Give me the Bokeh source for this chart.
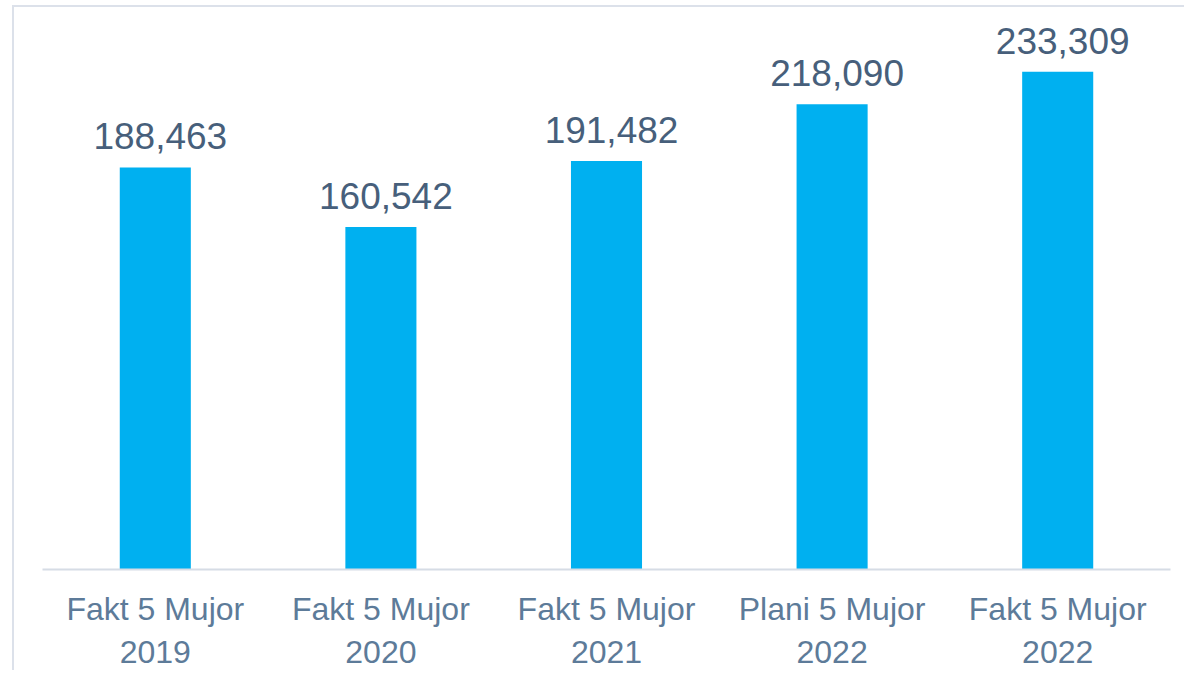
from bokeh.plotting import figure
from bokeh.models import ColumnDataSource, LabelSet, FactorRange, Range1d
from bokeh.core.properties import value
from bokeh.embed import file_html
from bokeh.resources import INLINE

categories = ["Fakt 5 Mujor\n2019", "Fakt 5 Mujor\n2020", "Fakt 5 Mujor\n2021",
              "Plani 5 Mujor\n2022", "Fakt 5 Mujor\n2022"]
values = [188463, 160542, 191482, 218090, 233309]
value_labels = [f"{v:,}" for v in values]

src = ColumnDataSource(dict(cat=categories, val=values, lab=value_labels))

p = figure(x_range=FactorRange(*categories, range_padding=0),
           y_range=Range1d(0, 257300),
           width=1172, height=665, output_backend="svg", toolbar_location=None,
           min_border_left=28, min_border_right=16, min_border_top=13, min_border_bottom=100)
p.styles = {"margin-left": "12px", "margin-top": "5px",
            "border-left": "2px solid #DCE1EA", "border-top": "2px solid #DCE1EA",
            "border-right": "none", "border-bottom": "none"}
p.border_fill_color = None
p.background_fill_color = None

p.vbar(x="cat", top="val", width=0.315, source=src, color="#00B0F0", line_color=None)

labels = LabelSet(x="cat", y="val", text="lab", source=src, x_offset=5, y_offset=18,
                  text_align="center", text_baseline="alphabetic",
                  text_font=value("Liberation Sans"), text_font_size="37px",
                  text_color="#475F7B")
p.add_layout(labels)

p.xgrid.visible = False
p.ygrid.visible = False
p.yaxis.visible = False
p.outline_line_color = None

ax = p.xaxis[0]
ax.axis_line_color = "#D6DCE5"
ax.axis_line_width = 2
ax.major_tick_line_color = None
ax.minor_tick_line_color = None
ax.major_tick_out = 0
ax.major_tick_in = 0
ax.major_label_standoff = 21
ax.major_label_text_font = "Liberation Sans"
ax.major_label_text_font_size = "32px"
ax.major_label_text_color = "#5D7B99"
ax.major_label_orientation = "horizontal"

open("out.html", "w").write(file_html(p, INLINE))
